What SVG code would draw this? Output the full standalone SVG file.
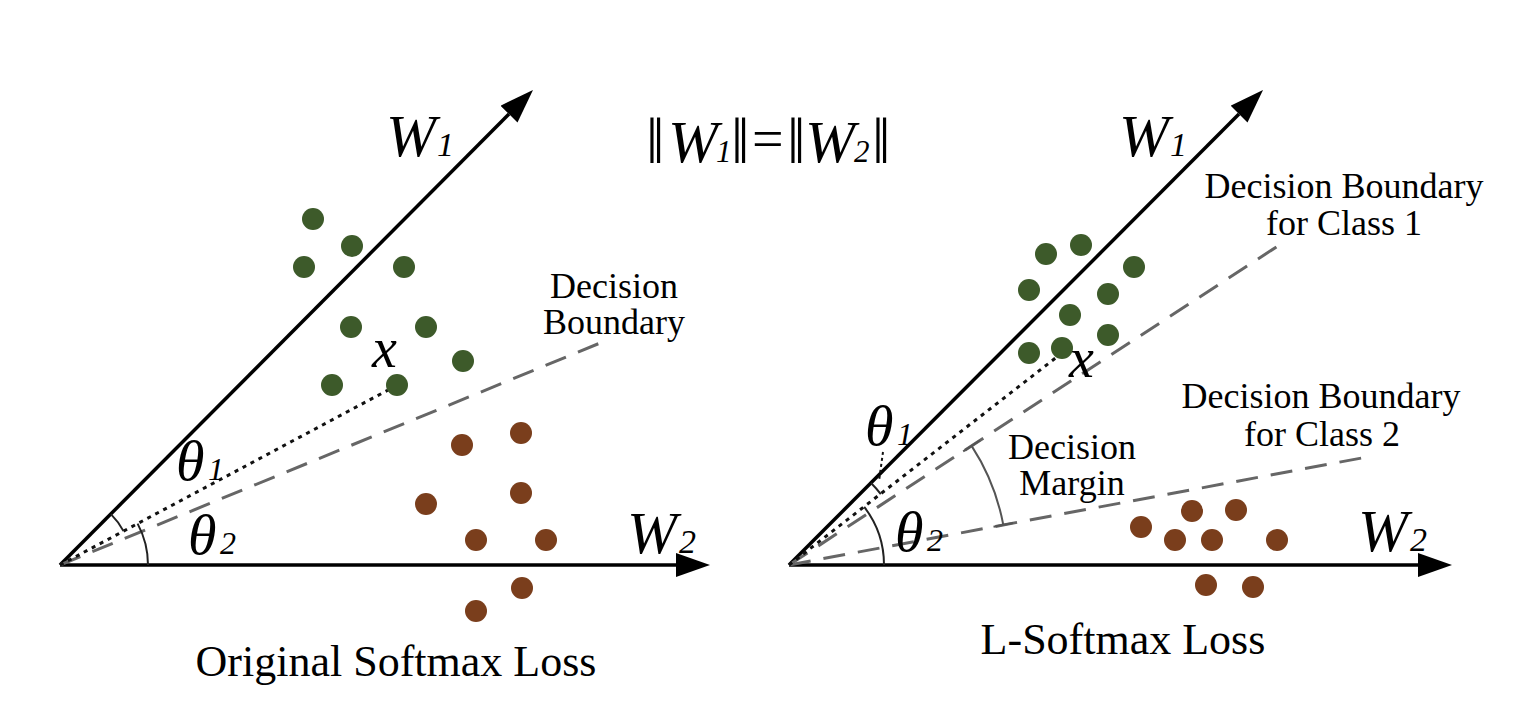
<svg xmlns="http://www.w3.org/2000/svg" width="1534" height="702" viewBox="0 0 1534 702">
<defs>
<marker id="ah" viewBox="0 0 34 24" refX="0" refY="12" markerWidth="34" markerHeight="24" markerUnits="userSpaceOnUse" orient="auto">
<path d="M0,0 L34,12 L0,24 Z" fill="#000"/>
</marker>
<style>
.axis{stroke:#000;stroke-width:3.5;fill:none;marker-end:url(#ah)}
.dash{stroke:#666;stroke-width:3;fill:none;stroke-dasharray:22 13}
.dot{stroke:#111;stroke-width:3;fill:none;stroke-dasharray:4 5}
.arc{stroke:#222;stroke-width:2;fill:none}
.marc{stroke:#555;stroke-width:2;fill:none}
.g{fill:#3d5a2a}
.b{fill:#7a3e1c}
.t{font-family:"Liberation Serif","Times New Roman",serif;fill:#000}
.lbl{font-size:36px;text-anchor:middle}
.ttl{font-size:44px;text-anchor:middle}
.it{font-style:italic}
</style>
</defs>
<rect width="1534" height="702" fill="#fff"/>

<g id="connectors">
<line class="axis" x1="60" y1="565" x2="509" y2="114.1"/>
<line class="axis" x1="60" y1="565" x2="676" y2="565"/>
<line class="dash" x1="60" y1="565" x2="605" y2="341"/>
<line class="dot" x1="60" y1="565" x2="390" y2="389"/>
<path class="arc" d="M110.9,514.1 A72,72 0 0 1 123.5,531.1"/>
<path class="arc" d="M137.6,523.6 A88,88 0 0 1 148,565"/>
<line class="axis" x1="789" y1="565" x2="1239" y2="114.1"/>
<line class="axis" x1="789" y1="565" x2="1418" y2="565"/>
<line class="dash" x1="789" y1="565" x2="1284" y2="242"/>
<line class="dash" x1="789" y1="565" x2="1367" y2="457"/>
<line class="dot" x1="789" y1="565" x2="1062" y2="353"/>
<path class="arc" d="M871,483 A116,116 0 0 1 880.8,494.1"/>
<line class="dot" x1="883" y1="452" x2="879" y2="481" style="stroke-width:2;stroke-dasharray:3 3"/>
<path class="arc" d="M864.2,506.9 A95,95 0 0 1 884,565"/>
<path class="marc" d="M971.6,445.9 A218,218 0 0 1 1003.3,524.9"/>
<line class="marc" x1="963.2" y1="451.3" x2="980" y2="440.4"/>
<line class="marc" x1="993.5" y1="526.7" x2="1013.1" y2="523.1"/>
</g>

<g id="class1-left">
<circle class="g" cx="313" cy="219" r="11"/>
<circle class="g" cx="352" cy="246" r="11"/>
<circle class="g" cx="304" cy="267" r="11"/>
<circle class="g" cx="404" cy="267" r="11"/>
<circle class="g" cx="351" cy="327" r="11"/>
<circle class="g" cx="426" cy="327" r="11"/>
<circle class="g" cx="463" cy="361" r="11"/>
<circle class="g" cx="332" cy="385" r="11"/>
<circle class="g" cx="397" cy="385" r="11"/>
</g>
<g id="class2-left">
<circle class="b" cx="521" cy="433" r="11"/>
<circle class="b" cx="462" cy="445" r="11"/>
<circle class="b" cx="521" cy="493" r="11"/>
<circle class="b" cx="426" cy="504" r="11"/>
<circle class="b" cx="476" cy="540" r="11"/>
<circle class="b" cx="546" cy="540" r="11"/>
<circle class="b" cx="522" cy="588" r="11"/>
<circle class="b" cx="476" cy="611" r="11"/>
</g>
<g id="class1-right">
<circle class="g" cx="1046" cy="254" r="11"/>
<circle class="g" cx="1081" cy="245" r="11"/>
<circle class="g" cx="1134" cy="267" r="11"/>
<circle class="g" cx="1029" cy="290" r="11"/>
<circle class="g" cx="1108" cy="294" r="11"/>
<circle class="g" cx="1070" cy="315" r="11"/>
<circle class="g" cx="1108" cy="335" r="11"/>
<circle class="g" cx="1029" cy="353" r="11"/>
<circle class="g" cx="1062" cy="348" r="11"/>
</g>
<g id="class2-right">
<circle class="b" cx="1141" cy="527" r="11"/>
<circle class="b" cx="1192" cy="511" r="11"/>
<circle class="b" cx="1236" cy="510" r="11"/>
<circle class="b" cx="1175" cy="540" r="11"/>
<circle class="b" cx="1212" cy="540" r="11"/>
<circle class="b" cx="1277" cy="540" r="11"/>
<circle class="b" cx="1206" cy="585" r="11"/>
<circle class="b" cx="1253" cy="587" r="11"/>
</g>

<g id="labels-left">
<text class="t it" x="386" y="156" font-size="60">W</text>
<text class="t it" x="437" y="156" font-size="34">1</text>
<text class="t it" x="627" y="553" font-size="60">W</text>
<text class="t it" x="679" y="553" font-size="34">2</text>
<text class="t it" x="176" y="480" font-size="58">θ</text>
<text class="t it" x="208" y="480" font-size="32">1</text>
<text class="t it" x="188" y="554" font-size="58">θ</text>
<text class="t it" x="220" y="554" font-size="32">2</text>
<text class="t it" x="372" y="367" font-size="56">x</text>
<text class="t lbl" x="614" y="298">Decision</text>
<text class="t lbl" x="614" y="334">Boundary</text>
<text class="t ttl" x="396" y="676">Original Softmax Loss</text>
</g>

<g id="title">
<text class="t" x="646" y="163" font-size="66">‖</text>
<text class="t it" x="668" y="162" font-size="60">W</text>
<text class="t it" x="716" y="162" font-size="31">1</text>
<text class="t" x="731" y="163" font-size="66">‖</text>
<text class="t" x="752" y="158" font-size="56">=</text>
<text class="t" x="787" y="163" font-size="66">‖</text>
<text class="t it" x="805" y="162" font-size="60">W</text>
<text class="t it" x="854" y="162" font-size="31">2</text>
<text class="t" x="872" y="163" font-size="66">‖</text>
</g>

<g id="labels-right">
<text class="t it" x="1119" y="156" font-size="60">W</text>
<text class="t it" x="1170" y="156" font-size="34">1</text>
<text class="t it" x="1358" y="551" font-size="60">W</text>
<text class="t it" x="1410" y="551" font-size="34">2</text>
<text class="t it" x="865" y="445" font-size="58">θ</text>
<text class="t it" x="897" y="445" font-size="32">1</text>
<text class="t it" x="895" y="551" font-size="58">θ</text>
<text class="t it" x="927" y="551" font-size="32">2</text>
<text class="t it" x="1069" y="377" font-size="56">x</text>
<text class="t lbl" x="1344" y="198">Decision Boundary</text>
<text class="t lbl" x="1344" y="235">for Class 1</text>
<text class="t lbl" x="1321" y="408">Decision Boundary</text>
<text class="t lbl" x="1322" y="446">for Class 2</text>
<text class="t lbl" x="1072" y="459">Decision</text>
<text class="t lbl" x="1072" y="495">Margin</text>
<text class="t ttl" x="1123" y="654">L-Softmax Loss</text>
</g>
</svg>
